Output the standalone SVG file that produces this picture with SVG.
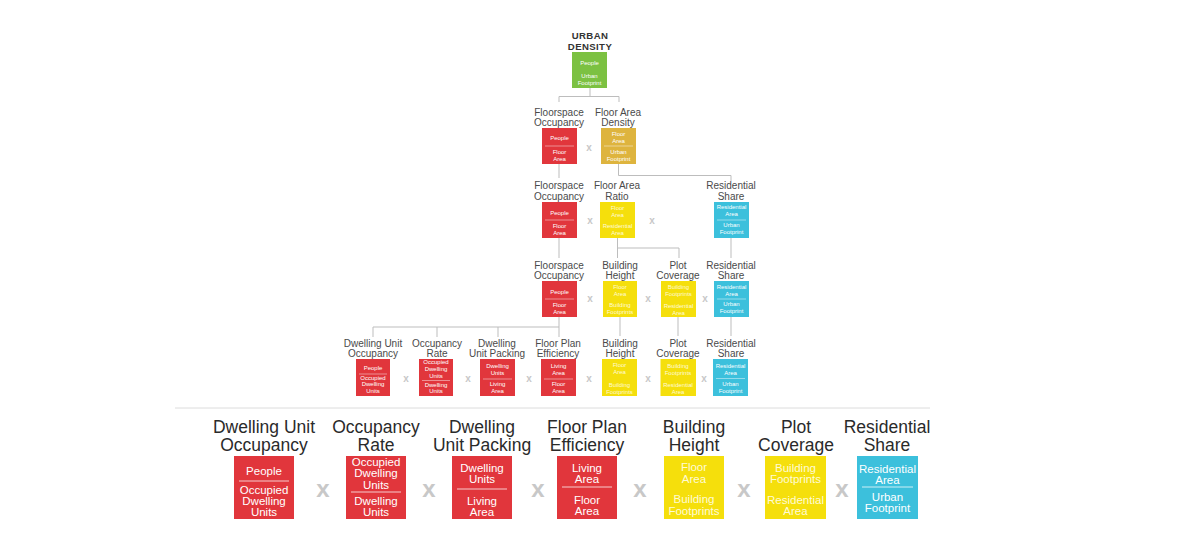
<svg xmlns="http://www.w3.org/2000/svg" width="1181" height="550" viewBox="0 0 1181 550">
<style>
text{font-family:"Liberation Sans",Arial,sans-serif;text-anchor:middle}
.t{font-size:10px;fill:#4a4a4a}
.tt{font-size:9.6px;font-weight:bold;fill:#333;letter-spacing:.4px}
.L{font-size:17.5px;fill:#2a2a2a}
.s{font-size:6px;fill:#fff}
.b{font-size:11.5px;fill:#fff}
.sy{font-size:6px;fill:#fffbd6}
.by{font-size:11.5px;fill:#fffbd6}
.x{font-size:10px;font-weight:bold;fill:#c8c8c8}
.X{font-size:24px;font-weight:bold;fill:#c8c8c8}
.red{fill:#e1363c}.yel{fill:#f5df0c}.cya{fill:#3cc0dc}.grn{fill:#7cc142}.org{fill:#deb43e}
.dv{stroke:#fff;stroke-opacity:.75;stroke-width:.6}
.dvb{stroke:#fff;stroke-opacity:.75;stroke-width:1}
.cn{fill:none;stroke:#bdbdbd;stroke-width:1}
</style>
<rect width="1181" height="550" fill="#fff"/>
<g id="connectors" class="cn">
<path d="M590 88V96.5M559 102V96.5H619V102"/>
<path d="M559 164V178M618.5 164V175.5H731V181"/>
<path d="M559 238V258M617.5 238V258M617.5 248H679V258M731 238V258"/>
<path d="M559 317V327H373V337M437 327V337M498 327V337M559 327V337M620 317V336M678 317V336M731 317V336"/>
<path d="M175 408H930" stroke="#dcdcdc"/>
</g>
<g id="urban-density">
<text class="tt"><tspan x="590" y="39">URBAN</tspan><tspan x="590" y="50">DENSITY</tspan></text>
<rect class="grn" x="572" y="52" width="35" height="36"/>
<text class="s"><tspan x="589.5" y="64.5">People</tspan><tspan x="589.5" y="77.7">Urban</tspan><tspan x="589.5" y="84.7">Footprint</tspan></text>
</g>
<g id="l2-floorspace-occupancy">
<text class="t"><tspan x="559" y="116">Floorspace</tspan><tspan x="559" y="126">Occupancy</tspan></text>
<rect class="red" x="542" y="128" width="35" height="36"/>
<line class="dv" x1="545" y1="146" x2="574" y2="146"/>
<text class="s"><tspan x="559.5" y="140.3">People</tspan><tspan x="559.5" y="154.3">Floor</tspan><tspan x="559.5" y="161">Area</tspan></text>
</g>
<g id="l2-floor-area-density">
<text class="t"><tspan x="618" y="116">Floor Area</tspan><tspan x="618" y="126">Density</tspan></text>
<rect class="org" x="601" y="128" width="35" height="36"/>
<line class="dv" x1="604" y1="146" x2="633" y2="146"/>
<text class="s"><tspan x="618.5" y="135.5">Floor</tspan><tspan x="618.5" y="143">Area</tspan><tspan x="618.5" y="154.3">Urban</tspan><tspan x="618.5" y="161.3">Footprint</tspan></text>
</g>
<g id="l3-floorspace-occupancy">
<text class="t"><tspan x="559" y="189.3">Floorspace</tspan><tspan x="559" y="199.5">Occupancy</tspan></text>
<rect class="red" x="542" y="202" width="35" height="36"/>
<line class="dv" x1="545" y1="220" x2="574" y2="220"/>
<text class="s"><tspan x="559.5" y="215">People</tspan><tspan x="559.5" y="228">Floor</tspan><tspan x="559.5" y="235">Area</tspan></text>
</g>
<g id="l3-floor-area-ratio">
<text class="t"><tspan x="617" y="189.3">Floor Area</tspan><tspan x="617" y="199.5">Ratio</tspan></text>
<rect class="yel" x="600" y="202" width="35" height="36"/>
<text class="sy"><tspan x="617.5" y="209.5">Floor</tspan><tspan x="617.5" y="216.5">Area</tspan><tspan x="617.5" y="228">Residential</tspan><tspan x="617.5" y="235">Area</tspan></text>
</g>
<g id="l3-residential-share">
<text class="t"><tspan x="731" y="189.3">Residential</tspan><tspan x="731" y="199.5">Share</tspan></text>
<rect class="cya" x="714" y="202" width="35" height="36"/>
<line class="dv" x1="717" y1="220" x2="746" y2="220"/>
<text class="s"><tspan x="731.5" y="209">Residential</tspan><tspan x="731.5" y="216">Area</tspan><tspan x="731.5" y="227">Urban</tspan><tspan x="731.5" y="234">Footprint</tspan></text>
</g>
<g id="l4-floorspace-occupancy">
<text class="t"><tspan x="559" y="268.5">Floorspace</tspan><tspan x="559" y="278.5">Occupancy</tspan></text>
<rect class="red" x="542" y="281" width="35" height="36"/>
<line class="dv" x1="545" y1="299" x2="574" y2="299"/>
<text class="s"><tspan x="559.5" y="294">People</tspan><tspan x="559.5" y="307">Floor</tspan><tspan x="559.5" y="314">Area</tspan></text>
</g>
<g id="l4-building-height">
<text class="t"><tspan x="620" y="268.5">Building</tspan><tspan x="620" y="278.5">Height</tspan></text>
<rect class="yel" x="603" y="281" width="34" height="36"/>
<text class="sy"><tspan x="620" y="289">Floor</tspan><tspan x="620" y="296">Area</tspan><tspan x="620" y="307">Building</tspan><tspan x="620" y="314">Footprints</tspan></text>
</g>
<g id="l4-plot-coverage">
<text class="t"><tspan x="678" y="268.5">Plot</tspan><tspan x="678" y="278.5">Coverage</tspan></text>
<rect class="yel" x="661" y="281" width="35" height="36"/>
<text class="sy"><tspan x="678.5" y="289">Building</tspan><tspan x="678.5" y="296">Footprints</tspan><tspan x="678.5" y="308">Residential</tspan><tspan x="678.5" y="315">Area</tspan></text>
</g>
<g id="l4-residential-share">
<text class="t"><tspan x="731" y="268.5">Residential</tspan><tspan x="731" y="278.5">Share</tspan></text>
<rect class="cya" x="714" y="281" width="35" height="36"/>
<line class="dv" x1="717" y1="299" x2="746" y2="299"/>
<text class="s"><tspan x="731.5" y="289">Residential</tspan><tspan x="731.5" y="296">Area</tspan><tspan x="731.5" y="306">Urban</tspan><tspan x="731.5" y="313">Footprint</tspan></text>
</g>
<g id="l5-dwelling-unit-occupancy">
<text class="t"><tspan x="373" y="346.7">Dwelling Unit</tspan><tspan x="373" y="356.7">Occupancy</tspan></text>
<rect class="red" x="356" y="359" width="34" height="37"/>
<line class="dv" x1="359" y1="374" x2="387" y2="374"/>
<text class="s"><tspan x="373" y="370">People</tspan><tspan x="373" y="379.5">Occupied</tspan><tspan x="373" y="386.3">Dwelling</tspan><tspan x="373" y="393">Units</tspan></text>
</g>
<g id="l5-occupancy-rate">
<text class="t"><tspan x="437" y="346.7">Occupancy</tspan><tspan x="437" y="356.7">Rate</tspan></text>
<rect class="red" x="419" y="359" width="34" height="37"/>
<line class="dv" x1="422" y1="380.5" x2="450" y2="380.5"/>
<text class="s"><tspan x="436" y="364.3">Occupied</tspan><tspan x="436" y="371">Dwelling</tspan><tspan x="436" y="377.8">Units</tspan><tspan x="436" y="386.5">Dwelling</tspan><tspan x="436" y="393.3">Units</tspan></text>
</g>
<g id="l5-dwelling-unit-packing">
<text class="t"><tspan x="497" y="346.7">Dwelling</tspan><tspan x="497" y="356.7">Unit Packing</tspan></text>
<rect class="red" x="480" y="359" width="35" height="37"/>
<line class="dv" x1="483" y1="379" x2="512" y2="379"/>
<text class="s"><tspan x="497.5" y="368">Dwelling</tspan><tspan x="497.5" y="375">Units</tspan><tspan x="497.5" y="386">Living</tspan><tspan x="497.5" y="393">Area</tspan></text>
</g>
<g id="l5-floor-plan-efficiency">
<text class="t"><tspan x="558" y="346.7">Floor Plan</tspan><tspan x="558" y="356.7">Efficiency</tspan></text>
<rect class="red" x="541" y="359" width="35" height="37"/>
<line class="dv" x1="544" y1="379" x2="573" y2="379"/>
<text class="s"><tspan x="558.5" y="368">Living</tspan><tspan x="558.5" y="375">Area</tspan><tspan x="558.5" y="386">Floor</tspan><tspan x="558.5" y="393">Area</tspan></text>
</g>
<g id="l5-building-height">
<text class="t"><tspan x="620" y="346.7">Building</tspan><tspan x="620" y="356.7">Height</tspan></text>
<rect class="yel" x="602" y="359" width="35" height="37"/>
<text class="sy"><tspan x="619.5" y="367">Floor</tspan><tspan x="619.5" y="374">Area</tspan><tspan x="619.5" y="387">Building</tspan><tspan x="619.5" y="394">Footprints</tspan></text>
</g>
<g id="l5-plot-coverage">
<text class="t"><tspan x="678" y="346.7">Plot</tspan><tspan x="678" y="356.7">Coverage</tspan></text>
<rect class="yel" x="660.5" y="359" width="35.5" height="37"/>
<text class="sy"><tspan x="678" y="367.5">Building</tspan><tspan x="678" y="374.5">Footprints</tspan><tspan x="678" y="387">Residential</tspan><tspan x="678" y="394">Area</tspan></text>
</g>
<g id="l5-residential-share">
<text class="t"><tspan x="731" y="346.7">Residential</tspan><tspan x="731" y="356.7">Share</tspan></text>
<rect class="cya" x="713" y="359" width="35" height="37"/>
<line class="dv" x1="716" y1="378.5" x2="745" y2="378.5"/>
<text class="s"><tspan x="730.5" y="367.5">Residential</tspan><tspan x="730.5" y="374.5">Area</tspan><tspan x="730.5" y="386">Urban</tspan><tspan x="730.5" y="393">Footprint</tspan></text>
</g>
<g id="small-x-marks">
<text class="x" x="589" y="150.5">x</text>
<text class="x" x="590" y="223.5">x</text>
<text class="x" x="652" y="223.5">x</text>
<text class="x" x="590" y="301.5">x</text>
<text class="x" x="648" y="301.5">x</text>
<text class="x" x="705" y="301.5">x</text>
<text class="x" x="406" y="381.5">x</text>
<text class="x" x="468" y="381.5">x</text>
<text class="x" x="529" y="381.5">x</text>
<text class="x" x="589" y="381.5">x</text>
<text class="x" x="648" y="381.5">x</text>
<text class="x" x="704" y="381.5">x</text>
</g>
<g id="b-dwelling-unit-occupancy">
<text class="L"><tspan x="264" y="433">Dwelling Unit</tspan><tspan x="264" y="451">Occupancy</tspan></text>
<rect class="red" x="234" y="456" width="60" height="63"/>
<line class="dvb" x1="239" y1="481" x2="289" y2="481"/>
<text class="b"><tspan x="264" y="475">People</tspan><tspan x="264" y="493.5">Occupied</tspan><tspan x="264" y="504.6">Dwelling</tspan><tspan x="264" y="515.7">Units</tspan></text>
</g>
<g id="b-occupancy-rate">
<text class="L"><tspan x="376" y="433">Occupancy</tspan><tspan x="376" y="451">Rate</tspan></text>
<rect class="red" x="346" y="456" width="60" height="63"/>
<line class="dvb" x1="351" y1="492" x2="401" y2="492"/>
<text class="b"><tspan x="376" y="466.3">Occupied</tspan><tspan x="376" y="477.4">Dwelling</tspan><tspan x="376" y="488.5">Units</tspan><tspan x="376" y="504.5">Dwelling</tspan><tspan x="376" y="515.6">Units</tspan></text>
</g>
<g id="b-dwelling-unit-packing">
<text class="L"><tspan x="482" y="433">Dwelling</tspan><tspan x="482" y="451">Unit Packing</tspan></text>
<rect class="red" x="452" y="456" width="60" height="63"/>
<line class="dvb" x1="457" y1="489" x2="507" y2="489"/>
<text class="b"><tspan x="482" y="472">Dwelling</tspan><tspan x="482" y="483.1">Units</tspan><tspan x="482" y="505">Living</tspan><tspan x="482" y="516.1">Area</tspan></text>
</g>
<g id="b-floor-plan-efficiency">
<text class="L"><tspan x="587" y="433">Floor Plan</tspan><tspan x="587" y="451">Efficiency</tspan></text>
<rect class="red" x="557" y="456" width="60" height="63"/>
<line class="dvb" x1="562" y1="487" x2="612" y2="487"/>
<text class="b"><tspan x="587" y="472">Living</tspan><tspan x="587" y="483.1">Area</tspan><tspan x="587" y="503.5">Floor</tspan><tspan x="587" y="515">Area</tspan></text>
</g>
<g id="b-building-height">
<text class="L"><tspan x="694" y="433">Building</tspan><tspan x="694" y="451">Height</tspan></text>
<rect class="yel" x="664" y="456" width="60" height="63"/>
<text class="by"><tspan x="694" y="471">Floor</tspan><tspan x="694" y="483">Area</tspan><tspan x="694" y="503">Building</tspan><tspan x="694" y="515">Footprints</tspan></text>
</g>
<g id="b-plot-coverage">
<text class="L"><tspan x="796" y="433">Plot</tspan><tspan x="796" y="451">Coverage</tspan></text>
<rect class="yel" x="765" y="456" width="61" height="63"/>
<text class="by"><tspan x="795.5" y="472">Building</tspan><tspan x="795.5" y="483.1">Footprints</tspan><tspan x="795.5" y="504">Residential</tspan><tspan x="795.5" y="515.1">Area</tspan></text>
</g>
<g id="b-residential-share">
<text class="L"><tspan x="887" y="433">Residential</tspan><tspan x="887" y="451">Share</tspan></text>
<rect class="cya" x="857" y="456" width="61" height="63"/>
<line class="dvb" x1="862" y1="487" x2="913" y2="487"/>
<text class="b"><tspan x="887.5" y="472.5">Residential</tspan><tspan x="887.5" y="483.6">Area</tspan><tspan x="887.5" y="500.5">Urban</tspan><tspan x="887.5" y="511.6">Footprint</tspan></text>
</g>
<g id="big-x-marks">
<text class="X" x="323" y="497">x</text>
<text class="X" x="429" y="497">x</text>
<text class="X" x="538" y="497">x</text>
<text class="X" x="640" y="497">x</text>
<text class="X" x="744" y="497">x</text>
<text class="X" x="842" y="497">x</text>
</g>
</svg>
